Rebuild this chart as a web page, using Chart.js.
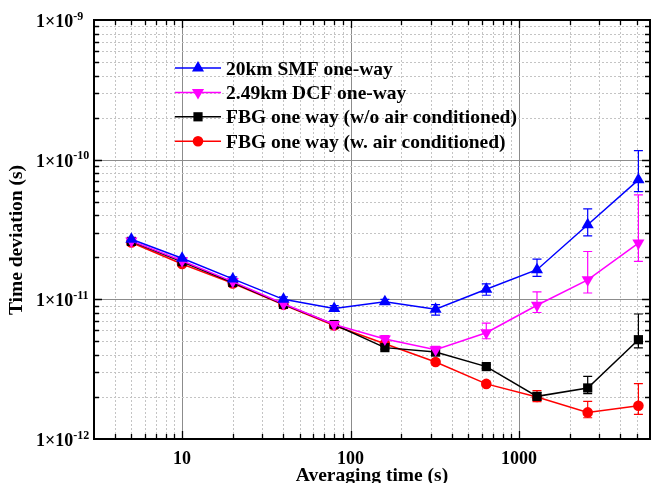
<!DOCTYPE html>
<html>
<head>
  <meta charset="UTF-8">
  <title>Time deviation</title>
  <script src="https://cdn.jsdelivr.net/npm/chart.js"></script>
  <style>
    html, body {
      margin: 0;
      padding: 0;
      background: #fff;
      overflow: hidden;
    }
    .chart-box {
      position: relative;
      width: 660px;
      height: 483px;
    }
  </style>
</head>
<body>
  <div class="chart-box">
    <canvas id="tdevChart"></canvas>
  </div>

  <script>
    // averaging times (s)
    const tau = [5, 10, 20, 40, 80, 160, 320, 640, 1280, 2560, 5120];

    // time deviation (s)
    const smf   = [2.69e-11, 1.97e-11, 1.40e-11, 1.00e-11, 8.6e-12, 9.6e-12, 8.5e-12, 1.18e-11, 1.63e-11, 3.42e-11, 7.17e-11];
    const dcf   = [2.62e-11, 1.89e-11, 1.34e-11, 9.3e-12, 6.6e-12, 5.2e-12, 4.36e-12, 5.77e-12, 9.07e-12, 1.38e-11, 2.53e-11];
    const fbgNoAc = [2.60e-11, 1.86e-11, 1.32e-11, 9.2e-12, 6.6e-12, 4.51e-12, 4.19e-12, 3.30e-12, 2.02e-12, 2.32e-12, 5.14e-12];
    const fbgAc = [2.55e-11, 1.79e-11, 1.30e-11, 9.15e-12, 6.5e-12, 4.81e-12, 3.56e-12, 2.48e-12, 2.00e-12, 1.55e-12, 1.73e-12];

    // error bar ends (null = no visible bar)
    const smfHi = [null, null, 1.45e-11, 1.04e-11, 9.0e-12, 1.0e-11, 9.15e-12, 1.29e-11, 1.94e-11, 4.45e-11, 1.16e-10];
    const smfLo = [null, null, 1.35e-11, 9.6e-12, 8.2e-12, 9.2e-12, 7.7e-12, 1.07e-11, 1.46e-11, 2.85e-11, 5.9e-11];
    const dcfHi = [null, null, 1.38e-11, 9.6e-12, 6.9e-12, 5.5e-12, 4.6e-12, 6.76e-12, 1.13e-11, 2.20e-11, 5.6e-11];
    const dcfLo = [null, null, 1.30e-11, 9.0e-12, 6.3e-12, 4.95e-12, 4.15e-12, 5.22e-12, 8.05e-12, 1.11e-11, 1.87e-11];
    const noAcHi = [null, null, null, null, null, 4.65e-12, 4.35e-12, 3.4e-12, 2.15e-12, 2.81e-12, 7.85e-12];
    const noAcLo = [null, null, null, null, null, 4.4e-12, 4.05e-12, 3.2e-12, 1.9e-12, 2.11e-12, 4.49e-12];
    const acHi = [null, null, null, null, null, null, null, 2.55e-12, 2.22e-12, 1.86e-12, 2.49e-12];
    const acLo = [null, null, null, null, null, null, null, 2.4e-12, 1.85e-12, 1.42e-12, 1.50e-12];

    const seriesNames = [
      '20km SMF one-way',
      '2.49km DCF one-way',
      'FBG one way (w/o air conditioned)',
      'FBG one way (w. air conditioned)'
    ];
    const xTickLabels = ['10', '100', '1000'];
    const yTickExps = [-9, -10, -11, -12];

    const xMin = 3, xMax = 6000;
    const yMin = 1e-12, yMax = 1e-9;

    const SERIF = '"Liberation Serif", "Times New Roman", serif';

    const styles = [
      { color: '#0000ff', marker: 'triangle', r: 7, rot: 0 },
      { color: '#ff00ff', marker: 'triangle', r: 7, rot: 180 },
      { color: '#000000', marker: 'rect', r: 6.5, rot: 0 },
      { color: '#ff0000', marker: 'circle', r: 5.3, rot: 0 }
    ];
    const errHi = [smfHi, dcfHi, noAcHi, acHi];
    const errLo = [smfLo, dcfLo, noAcLo, acLo];
    const values = [smf, dcf, fbgNoAc, fbgAc];

    function isDecade(v) {
      const l = Math.log10(v);
      return Math.abs(l - Math.round(l)) < 1e-6;
    }

    // 1..9 x 10^n positions inside a range
    function logSteps(lo, hi) {
      const out = [];
      for (let e = Math.floor(Math.log10(lo)); e <= Math.ceil(Math.log10(hi)); e++) {
        for (let m = 1; m <= 9; m++) {
          const v = m * Math.pow(10, e);
          if (v > lo * 1.0001 && v < hi * 0.9999) out.push(v);
        }
      }
      return out;
    }

    function drawMarker(ctx, type, x, y, r, rot) {
      ctx.beginPath();
      if (type === 'triangle') {
        const s = rot ? -1 : 1;
        ctx.moveTo(x, y - s * r);
        ctx.lineTo(x + r * Math.sin(Math.PI / 3), y + s * r / 2);
        ctx.lineTo(x - r * Math.sin(Math.PI / 3), y + s * r / 2);
        ctx.closePath();
      } else if (type === 'rect') {
        const h = r * Math.SQRT1_2;
        ctx.rect(x - h, y - h, 2 * h, 2 * h);
      } else {
        ctx.arc(x, y, r, 0, Math.PI * 2);
      }
      ctx.fill();
    }

    // grid lines and error bars under the data
    const underlay = {
      id: 'underlay',
      beforeDatasetsDraw(chart) {
        const { ctx, chartArea: a, scales: { x, y } } = chart;
        ctx.save();
        ctx.lineWidth = 1;
        logSteps(xMin, xMax).forEach(v => {
          const px = Math.round(x.getPixelForValue(v)) + 0.5;
          if (isDecade(v)) { ctx.setLineDash([]); ctx.strokeStyle = '#8c8c8c'; }
          else { ctx.setLineDash([2, 2]); ctx.strokeStyle = '#c4c4c4'; }
          ctx.beginPath(); ctx.moveTo(px, a.top); ctx.lineTo(px, a.bottom); ctx.stroke();
        });
        logSteps(yMin, yMax).forEach(v => {
          const py = Math.round(y.getPixelForValue(v)) + 0.5;
          if (isDecade(v)) { ctx.setLineDash([]); ctx.strokeStyle = '#8c8c8c'; }
          else { ctx.setLineDash([2, 2]); ctx.strokeStyle = '#c4c4c4'; }
          ctx.beginPath(); ctx.moveTo(a.left, py); ctx.lineTo(a.right, py); ctx.stroke();
        });
        ctx.setLineDash([]);

        // error bars
        ctx.lineWidth = 1.2;
        errHi.forEach((hi, i) => {
          ctx.strokeStyle = styles[i].color;
          hi.forEach((h, j) => {
            const l = errLo[i][j];
            if (h == null || l == null) return;
            const px = x.getPixelForValue(tau[j]);
            const pt = y.getPixelForValue(h);
            const pb = y.getPixelForValue(l);
            ctx.beginPath();
            ctx.moveTo(px, pt); ctx.lineTo(px, pb);
            ctx.moveTo(px - 4.5, pt); ctx.lineTo(px + 4.5, pt);
            ctx.moveTo(px - 4.5, pb); ctx.lineTo(px + 4.5, pb);
            ctx.stroke();
          });
        });
        ctx.restore();
      }
    };

    // frame, inward ticks, y labels, titles, legend
    const overlay = {
      id: 'overlay',
      afterDraw(chart) {
        const { ctx, chartArea: a, scales: { x, y } } = chart;
        ctx.save();

        ctx.strokeStyle = '#000';
        ctx.lineWidth = 1.3;
        logSteps(xMin, xMax).forEach(v => {
          const px = Math.round(x.getPixelForValue(v)) + 0.5;
          const len = isDecade(v) ? 8 : 5;
          ctx.beginPath();
          ctx.moveTo(px, a.bottom); ctx.lineTo(px, a.bottom - len);
          ctx.moveTo(px, a.top); ctx.lineTo(px, a.top + len);
          ctx.stroke();
        });
        logSteps(yMin, yMax).forEach(v => {
          const py = Math.round(y.getPixelForValue(v)) + 0.5;
          const len = isDecade(v) ? 8 : 5;
          ctx.beginPath();
          ctx.moveTo(a.left, py); ctx.lineTo(a.left + len, py);
          ctx.moveTo(a.right, py); ctx.lineTo(a.right - len, py);
          ctx.stroke();
        });

        ctx.lineWidth = 2;
        ctx.strokeRect(a.left, a.top, a.right - a.left, a.bottom - a.top);

        // y tick labels 1x10^n
        ctx.fillStyle = '#000';
        ctx.textAlign = 'left';
        ctx.textBaseline = 'alphabetic';
        yTickExps.forEach(e => {
          const py = y.getPixelForValue(Math.pow(10, e));
          ctx.font = 'bold 18px ' + SERIF;
          const base = '1\u00d710';
          ctx.fillText(base, 36, py + 7);
          const w = ctx.measureText(base).width;
          ctx.font = 'bold 12px ' + SERIF;
          ctx.fillText(String(e), 36 + w, py - 0.5);
        });

        // axis titles
        ctx.font = 'bold 19.5px ' + SERIF;
        ctx.textAlign = 'center';
        ctx.fillText('Averaging time (s)', (a.left + a.right) / 2, 481);
        ctx.save();
        ctx.translate(21.5, 240);
        ctx.rotate(-Math.PI / 2);
        ctx.fillText('Time deviation (s)', 0, 0);
        ctx.restore();

        // legend
        ctx.textAlign = 'left';
        seriesNames.forEach((name, i) => {
          const st = styles[i];
          const ly = 68 + i * 24.4;
          ctx.strokeStyle = st.color;
          ctx.fillStyle = st.color;
          ctx.lineWidth = 1.5;
          ctx.beginPath(); ctx.moveTo(175, ly); ctx.lineTo(221, ly); ctx.stroke();
          drawMarker(ctx, st.marker, 198, ly, st.r, st.rot);
          ctx.fillStyle = '#000';
          ctx.fillText(name, 226, ly + 6.5);
        });
        ctx.restore();
      }
    };

    const datasets = values.map((vals, i) => ({
      label: seriesNames[i],
      data: tau.map((t, j) => ({ x: t, y: vals[j] })),
      borderColor: styles[i].color,
      backgroundColor: styles[i].color,
      borderWidth: 1.5,
      pointStyle: styles[i].marker,
      pointRotation: styles[i].rot,
      pointRadius: styles[i].r,
      pointBorderWidth: 0,
      tension: 0
    }));

    new Chart(document.getElementById('tdevChart'), {
      type: 'line',
      data: { datasets },
      options: {
        responsive: true,
        maintainAspectRatio: false,
        animation: false,
        layout: { padding: { top: 20, right: 2, left: 0, bottom: 0 } },
        scales: {
          x: {
            type: 'logarithmic',
            min: xMin,
            max: xMax,
            grid: { display: false, drawTicks: false },
            border: { display: false },
            ticks: {
              autoSkip: false,
              maxRotation: 0,
              padding: 10,
              color: '#000',
              font: { family: SERIF, size: 18, weight: 'bold' },
              callback: v => {
                const s = String(Math.round(v));
                return xTickLabels.includes(s) && isDecade(v) ? s : '';
              }
            },
            afterFit: s => { s.height = 44; }
          },
          y: {
            type: 'logarithmic',
            min: yMin,
            max: yMax,
            grid: { display: false, drawTicks: false },
            border: { display: false },
            ticks: { display: false },
            afterFit: s => { s.width = 94; }
          }
        },
        plugins: {
          legend: { display: false },
          tooltip: { enabled: false }
        }
      },
      plugins: [underlay, overlay]
    });
  </script>
</body>
</html>
